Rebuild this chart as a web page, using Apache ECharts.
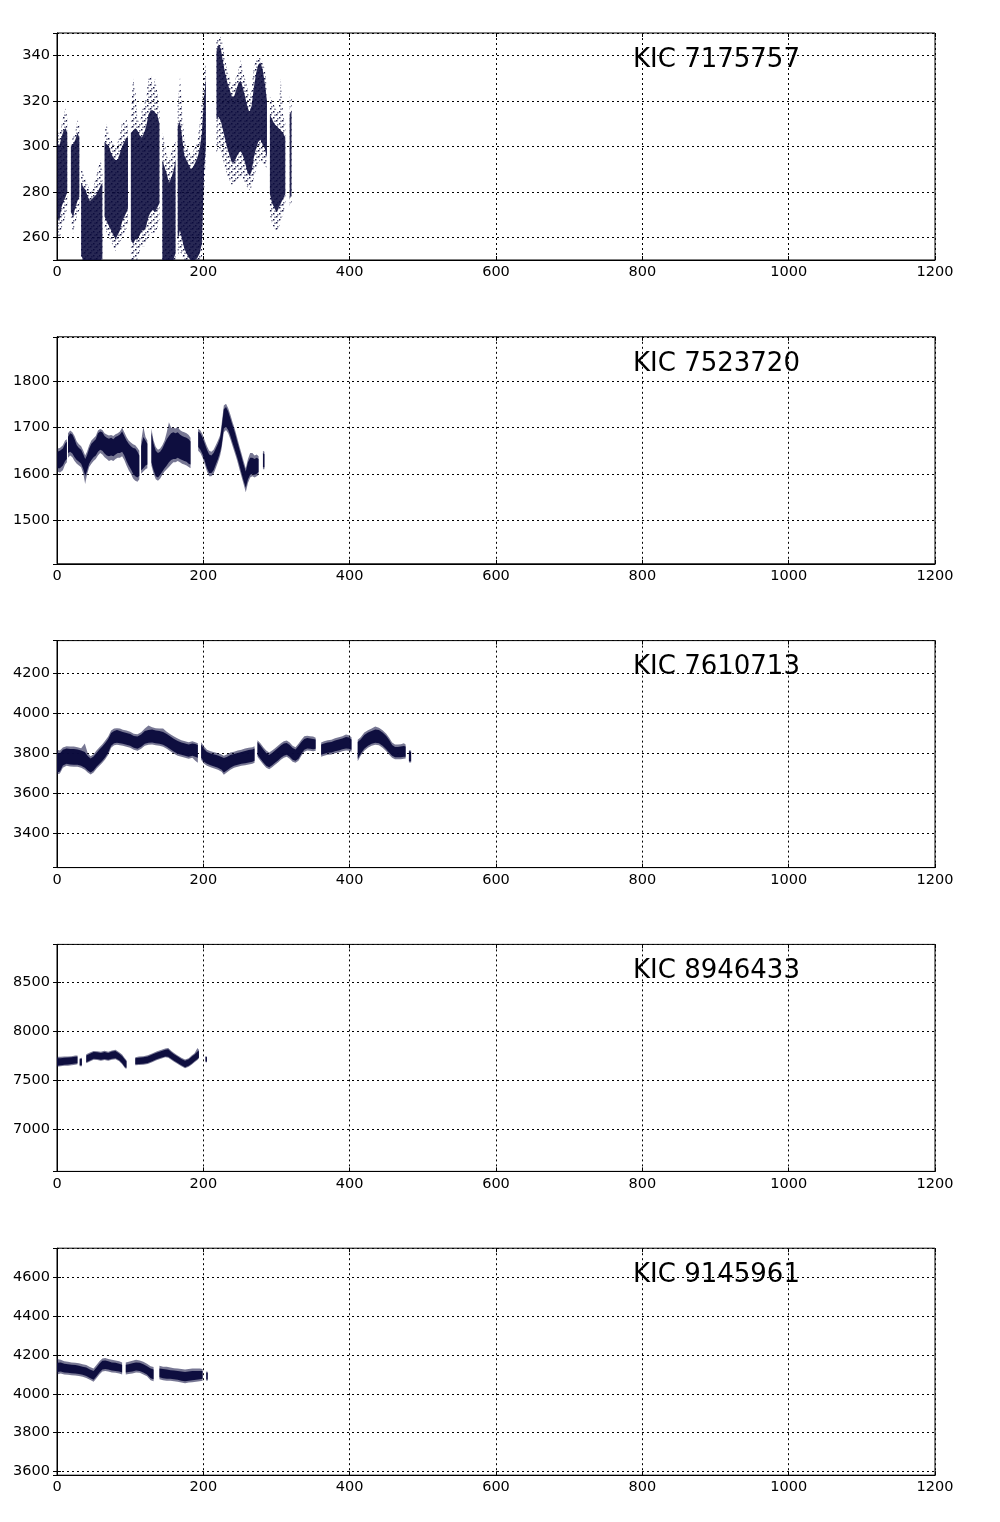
<!DOCTYPE html>
<html>
<head>
<meta charset="utf-8">
<script src="https://cdn.jsdelivr.net/npm/echarts@6/dist/echarts.min.js"></script>
<style>html,body{margin:0;padding:0;background:#fff}#c{width:1000px;height:1522px}</style>
</head>
<body>
<div id="c"></div>
<script>
// ---- data (each row: [time, outerLow, denseLow, denseHigh, outerHigh]) ----
const titles = ['KIC 7175757', 'KIC 7523720', 'KIC 7610713', 'KIC 8946433', 'KIC 9145961'];
const xTickValues = [0, 200, 400, 600, 800, 1000, 1200];
const yMins = [250, 1405, 3229, 6571, 3581];
const yMaxs = [350, 1897, 4364, 8888, 4750];
const yTickSteps = [20, 100, 200, 500, 200];

const kic7175757 = [
  [[0.5,262,269,302,308],[3,258,267,300,305],[6,264,273,304,309],[9,266,276,307,314],[12,270,278,308,317],[14,274,280,306,312]],
  [[19,268,271,300,302],[22,262,269,301,304],[25,266,273,303,306],[28,270,276,306,312],[30.5,272,278,304,309]],
  [[33,248,252,284,291],[36,245,250,282,288],[39,245,250,281,285],[42,245,250,278,283],[45,245,250,276,281],[48,245,250,277,280],[51,245,250,278,284],[54,245,250,279,287],[57,245,250,281,292],[60,245,250,283,294],[62,246,251,284,289]],
  [[65,264,269,302,306],[68,262,267,301,310],[71,260,265,300,304],[74,258,263,297,303],[77,256,261,295,301],[80,254,259,294,300],[83,256,261,294,302],[86,258,263,297,305],[89,260,267,300,311],[92,262,269,302,310],[95,264,271,304,312],[97,266,273,304,308]],
  [[101,248,259,306,314],[104,246,257,307,330],[107,248,259,308,325],[110,250,259,307,312],[113,254,261,305,310],[116,256,263,304,316],[119,256,263,306,318],[122,258,265,309,322],[125,260,269,314,330],[128,262,271,316,332],[131,262,272,316,326],[134,262,271,315,330],[137,264,273,314,324],[140,268,275,310,316]],
  [[144,245,250,294,306],[147,245,250,291,302],[150,245,250,288,296],[153,245,250,284,294],[156,245,250,286,297],[159,245,250,289,300],[162,248,253,294,303]],
  [[165,252,259,309,318],[168,254,263,311,331],[171,252,259,304,316],[174,248,255,296,303],[177,246,253,294,300],[180,245,251,292,298],[183,245,250,290,296],[186,245,250,291,298],[189,245,250,293,300],[192,246,251,295,302],[195,248,253,299,310],[198,250,257,306,320],[201,280,289,322,334],[203.5,296,301,330,336]],
  [[218,297,312,342,346],[221,300,313,345,349],[224,298,311,343,348],[227,294,307,337,344],[230,290,303,332,338],[233,287,299,328,333],[236,285,296,325,330],[239,283,293,322,327],[242,284,293,322,328],[245,285,295,325,331],[248,286,297,328,334],[251,287,298,329,338],[254,286,296,326,333],[257,284,293,322,330],[260,282,289,318,326],[263,281,287,315,322],[266,282,289,318,325],[269,286,295,326,335],[272,290,299,332,338],[275,293,302,336,340],[278,294,303,337,339],[281,293,301,334,337],[284,292,299,328,334],[287,290,295,320,326]],
  [[291,270,279,314,322],[294,266,275,312,320],[297,264,273,310,318],[300,263,271,309,316],[303,264,273,308,316],[306,268,275,307,330],[309,270,277,306,314],[312,274,279,304,310]],
  [[318,273,277,314,322],[320.5,274,279,316,321]]
];

const kic7523720 = [
  [[0.5,1605,1612,1648,1655],[4,1603,1612,1650,1656],[8,1608,1618,1655,1662],[11,1620,1628,1665,1672],[13.5,1625,1632,1670,1675]],
  [[15,1635,1645,1680,1688],[18,1640,1648,1688,1694],[21,1636,1644,1685,1690],[24,1628,1636,1675,1682],[27,1622,1630,1662,1670],[30,1618,1626,1656,1664],[33,1614,1622,1652,1660],[36,1600,1610,1642,1650],[38.5,1578,1596,1632,1640],[41,1598,1606,1640,1648],[44,1615,1622,1655,1662],[47,1622,1630,1665,1672],[50,1628,1636,1670,1677],[53,1632,1640,1675,1682],[56,1640,1648,1688,1694],[59,1645,1652,1692,1697],[62,1642,1650,1690,1695],[65,1636,1644,1682,1688],[68,1632,1640,1678,1685],[71,1628,1638,1676,1683],[74,1630,1640,1678,1684],[77,1628,1638,1675,1682],[80,1632,1642,1680,1686],[83,1635,1645,1682,1688],[86,1635,1645,1685,1692],[89,1638,1648,1692,1700],[92,1630,1640,1682,1690],[95,1618,1628,1672,1680],[98,1608,1618,1665,1672],[101,1600,1610,1660,1668],[104,1590,1600,1656,1664],[107,1585,1595,1655,1662],[110,1583,1592,1648,1656],[112.5,1588,1596,1640,1650]],
  [[115,1600,1608,1660,1670],[118,1605,1612,1680,1702],[121,1610,1618,1672,1680],[123.5,1612,1620,1665,1672]],
  [[129,1618,1625,1690,1698],[132,1600,1608,1665,1672],[135,1588,1595,1650,1658],[138,1585,1592,1645,1652],[141,1590,1598,1648,1655],[144,1598,1605,1655,1662],[147,1605,1612,1665,1672],[150,1610,1618,1675,1690],[153,1615,1625,1682,1712],[156,1620,1630,1688,1700],[159,1625,1632,1690,1700],[162,1625,1632,1688,1698],[165,1628,1635,1690,1702],[168,1625,1632,1685,1695],[171,1622,1630,1682,1692],[174,1620,1628,1680,1690],[177,1618,1626,1678,1688],[180,1615,1622,1675,1684],[182.5,1612,1620,1670,1678]],
  [[193,1650,1658,1692,1698],[196,1645,1652,1688,1694],[199,1635,1642,1678,1685],[202,1620,1628,1665,1672],[205,1605,1612,1652,1660],[208,1595,1602,1642,1650],[211,1595,1602,1640,1648],[214,1600,1608,1645,1652],[217,1612,1620,1655,1662],[220,1625,1632,1665,1672],[223,1640,1648,1678,1684],[225,1655,1662,1700,1708],[228,1690,1698,1740,1748],[231,1695,1702,1745,1752],[234,1688,1695,1735,1742],[237,1675,1682,1720,1728],[240,1660,1667,1705,1712],[243,1645,1652,1690,1697],[246,1630,1637,1672,1680],[249,1612,1620,1655,1662],[252,1595,1602,1638,1645],[255,1578,1585,1620,1628],[258,1560,1570,1605,1612],[261,1580,1588,1625,1632],[264,1592,1598,1635,1645],[267,1595,1600,1635,1645],[270,1592,1598,1632,1640],[273,1595,1600,1635,1642],[275.5,1598,1604,1632,1638]],
  [[281.5,1610,1614,1645,1650],[283.5,1610,1614,1642,1648]]
];

const kic7610713 = [
  [[0,3695,3705,3805,3818],[4,3700,3710,3800,3815],[8,3728,3740,3818,3830],[13,3738,3748,3825,3836],[18,3735,3745,3822,3834],[23,3733,3743,3822,3834],[28,3733,3743,3819,3831],[33,3728,3738,3815,3826],[38,3718,3728,3807,3850],[42,3705,3715,3787,3801],[46,3695,3705,3775,3786],[50,3705,3715,3785,3796],[54,3723,3733,3802,3814],[58,3738,3748,3819,3831],[62,3753,3763,3835,3846],[66,3771,3781,3852,3864],[70,3793,3805,3872,3884],[74,3828,3838,3902,3914],[78,3841,3851,3912,3924],[82,3843,3853,3917,3926],[86,3841,3851,3912,3924],[90,3838,3848,3907,3918],[95,3833,3843,3902,3914],[100,3828,3838,3897,3908],[105,3818,3828,3887,3898],[110,3813,3823,3885,3896],[115,3823,3833,3895,3906],[120,3838,3848,3912,3924],[125,3843,3853,3917,3940],[130,3845,3855,3919,3931],[135,3841,3851,3915,3926],[140,3838,3848,3912,3924],[145,3833,3843,3907,3925],[150,3823,3833,3897,3908],[155,3811,3821,3885,3896],[160,3798,3808,3872,3884],[165,3788,3798,3862,3874],[170,3783,3793,3855,3866],[175,3778,3788,3849,3861],[180,3773,3783,3845,3856],[185,3778,3788,3849,3861],[189,3763,3783,3847,3856],[192.5,3753,3778,3842,3851]],
  [[197,3768,3778,3845,3856],[201,3748,3758,3822,3834],[205,3738,3748,3807,3818],[210,3731,3741,3799,3811],[215,3725,3735,3795,3806],[220,3718,3728,3789,3801],[225,3708,3718,3782,3794],[228,3693,3705,3777,3788],[232,3705,3715,3782,3794],[237,3718,3728,3792,3804],[242,3728,3738,3797,3808],[247,3733,3743,3802,3814],[252,3738,3748,3807,3818],[257,3741,3751,3812,3824],[262,3745,3755,3817,3828],[267,3748,3758,3819,3831],[270,3753,3763,3825,3836]],
  [[274,3783,3793,3857,3866],[278,3763,3773,3839,3851],[282,3745,3755,3819,3831],[286,3728,3738,3802,3814],[290,3721,3731,3792,3804],[294,3731,3741,3802,3814],[298,3743,3753,3815,3826],[302,3755,3765,3827,3838],[306,3768,3778,3839,3851],[310,3778,3788,3849,3861],[314,3783,3793,3852,3864],[318,3773,3783,3842,3854],[322,3758,3768,3827,3838],[326,3753,3763,3819,3831],[330,3763,3773,3837,3848],[334,3788,3798,3857,3868],[338,3808,3818,3872,3886],[342,3815,3825,3877,3888],[346,3813,3823,3875,3886],[350,3811,3821,3872,3884],[353.5,3813,3823,3869,3878]],
  [[361,3783,3793,3845,3854],[365,3788,3798,3849,3861],[370,3793,3803,3855,3866],[375,3795,3805,3857,3868],[380,3801,3811,3865,3876],[385,3805,3815,3869,3881],[390,3811,3821,3875,3886],[395,3815,3825,3882,3894],[399,3813,3823,3879,3891],[402.5,3808,3818,3869,3881]],
  [[411,3761,3773,3857,3868],[415,3788,3798,3869,3881],[420,3813,3823,3892,3904],[425,3828,3838,3905,3916],[430,3838,3848,3912,3924],[435,3843,3853,3919,3934],[440,3841,3851,3917,3928],[445,3828,3838,3905,3916],[450,3811,3821,3887,3898],[454,3793,3803,3867,3878],[458,3778,3788,3842,3854],[462,3771,3781,3832,3844],[466,3771,3781,3832,3844],[470,3771,3781,3835,3846],[474,3773,3783,3837,3851],[476.5,3775,3783,3835,3844]],
  [[481,3755,3761,3812,3816],[484,3755,3761,3807,3814]]
];

const kic8946433 = [
  [[0,7640,7650,7725,7740],[5,7643,7655,7727,7740],[10,7650,7660,7730,7743],[15,7650,7663,7733,7745],[20,7655,7667,7735,7747],[25,7660,7673,7740,7753],[28,7665,7675,7743,7755]],
  [[31,7645,7655,7715,7725],[34,7645,7655,7720,7730]],
  [[40,7675,7685,7755,7767],[45,7693,7703,7773,7785],[50,7710,7720,7790,7800],[55,7707,7717,7787,7797],[60,7700,7710,7780,7793],[65,7707,7717,7790,7803],[70,7700,7710,7780,7793],[75,7710,7720,7795,7805],[80,7715,7725,7800,7813],[85,7695,7705,7775,7787],[89,7665,7675,7750,7763],[93,7625,7635,7710,7723],[95,7620,7630,7695,7705]],
  [[107,7655,7665,7725,7735],[112,7657,7667,7730,7743],[118,7660,7670,7735,7747],[124,7667,7677,7745,7757],[130,7685,7695,7763,7775],[136,7705,7715,7783,7795],[142,7720,7730,7797,7810],[148,7735,7745,7813,7825],[152,7730,7740,7817,7830],[156,7710,7720,7790,7803],[160,7690,7700,7767,7780],[165,7667,7677,7743,7755],[170,7645,7655,7717,7730],[175,7625,7635,7700,7713],[180,7640,7650,7715,7727],[184,7660,7670,7740,7753],[188,7685,7695,7765,7777],[192,7707,7717,7795,7830],[194,7725,7733,7800,7810]],
  [[203,7685,7693,7740,7747],[205,7685,7693,7737,7745]]
];

const kic9145961 = [
  [[0,4100,4112,4160,4180],[5,4105,4115,4162,4175],[10,4100,4110,4155,4168],[15,4098,4108,4152,4165],[20,4096,4106,4150,4162],[25,4095,4105,4148,4160],[30,4092,4102,4145,4158],[35,4088,4098,4140,4152],[40,4082,4092,4135,4148],[45,4072,4082,4125,4138],[50,4062,4072,4118,4130],[54,4080,4090,4135,4148],[58,4100,4110,4155,4168],[62,4115,4125,4170,4182],[66,4118,4128,4172,4185],[70,4115,4125,4168,4180],[75,4110,4120,4162,4175],[80,4108,4118,4160,4172],[85,4105,4115,4155,4168],[89,4100,4110,4150,4162]],
  [[94,4100,4110,4150,4162],[98,4102,4112,4152,4165],[103,4105,4115,4158,4170],[108,4110,4120,4162,4175],[113,4108,4118,4160,4172],[118,4100,4110,4152,4165],[123,4090,4100,4142,4155],[128,4070,4080,4130,4142],[132,4065,4075,4125,4138]],
  [[140,4075,4085,4130,4145],[145,4070,4080,4128,4140],[150,4068,4078,4125,4140],[155,4068,4078,4122,4135],[160,4065,4075,4120,4132],[165,4062,4072,4118,4130],[170,4058,4068,4115,4128],[175,4055,4065,4112,4125],[180,4058,4068,4115,4128],[185,4060,4070,4118,4130],[190,4062,4072,4118,4130],[195,4065,4075,4118,4130],[199,4068,4078,4118,4128]],
  [[204,4068,4074,4110,4115],[206,4068,4074,4108,4114]]
];

const allSeries = [kic7175757, kic7523720, kic7610713, kic8946433, kic9145961];

// ---- chart ----
const DOT = '10,10,60';
const FONT = 'DejaVu Sans';

// speckle texture (a fixed style pattern, not data) for the sparse outer halo
function makeSpeckle() {
  const c = document.createElement('canvas');
  c.width = 6; c.height = 6;
  const g = c.getContext('2d');
  g.fillStyle = 'rgba(' + DOT + ',0.95)';
  g.fillRect(0, 0, 1.5, 1.5);
  g.fillRect(3, 3, 1.5, 1.5);
  g.fillRect(4.4, 0.6, 1.2, 1.2);
  g.fillRect(1.2, 4.2, 1.2, 1.2);
  return c;
}
const speckle = makeSpeckle();

const chart = echarts.init(document.getElementById('c'), null, {renderer: 'canvas'});
const grids = [], xAxes = [], yAxes = [], series = [], graphics = [];
const TOP0 = 33, STEP = 303.8, H = 227, LEFT = 57, W = 878;

allSeries.forEach((segs, i) => {
  const top = TOP0 + i * STEP;
  grids.push({left: LEFT, top: top, width: W, height: H, show: true, borderColor: '#000', borderWidth: 1, backgroundColor: 'transparent'});
  const splitLine = {show: true, lineStyle: {color: '#000', width: 1, type: [2, 3]}};
  const tick = {show: true, inside: true, length: 4, lineStyle: {color: '#000'}};
  xAxes.push({type: 'value', gridIndex: i, min: xTickValues[0], max: xTickValues[xTickValues.length - 1], interval: 200,
    axisLine: {show: true, lineStyle: {color: '#000'}}, axisTick: tick, splitLine: splitLine,
    axisLabel: {color: '#000', fontSize: 14.5, fontFamily: FONT, margin: 5, formatter: v => String(v)}});
  xAxes.push({type: 'value', gridIndex: i, position: 'top', min: xTickValues[0], max: xTickValues[xTickValues.length - 1], interval: 200,
    axisLine: {show: false}, axisTick: tick, splitLine: {show: false}, axisLabel: {show: false}});
  const st = yTickSteps[i];
  const yCommon = {type: 'value', gridIndex: i, min: yMins[i], max: yMaxs[i], splitNumber: 5, minInterval: st, maxInterval: st};
  yAxes.push(Object.assign({}, yCommon, {
    axisLine: {show: true, lineStyle: {color: '#000'}}, axisTick: tick, splitLine: splitLine,
    axisLabel: {color: '#000', fontSize: 14.5, fontFamily: FONT, margin: 7, showMinLabel: false, showMaxLabel: false,
      formatter: v => (Math.abs(v / st - Math.round(v / st)) < 1e-6 ? String(Math.round(v)) : '')}}));
  yAxes.push(Object.assign({}, yCommon, {position: 'right',
    axisLine: {show: false}, axisTick: tick, splitLine: {show: false}, axisLabel: {show: false}}));

  const lo = yMins[i], hi = yMaxs[i];
  const clampY = v => Math.min(Math.max(v, lo), hi);
  const outerFill = i === 0 ? {image: speckle, repeat: 'repeat'} : 'rgba(' + DOT + ',0.55)';
  const coreFill = 'rgba(' + DOT + ',' + (i === 0 ? 0.88 : 0.97) + ')';
  series.push({
    type: 'custom', xAxisIndex: 2 * i, yAxisIndex: 2 * i, clip: true, silent: true, animation: false,
    data: segs.map(s => [s[0][0], s[0][2]]),
    encode: {x: 0, y: 1},
    renderItem: function (params, api) {
      const s = segs[params.dataIndex];
      const band = (a, b) => s.map(r => api.coord([r[0], clampY(r[b])]))
        .concat(s.slice().reverse().map(r => api.coord([r[0], clampY(r[a])])));
      return {type: 'group', children: [
        {type: 'polygon', shape: {points: band(1, 4)}, style: {fill: outerFill}},
        {type: 'polygon', shape: {points: band(2, 3)}, style: {fill: coreFill}}
      ]};
    }
  });
  graphics.push({type: 'text', x: 633, y: top + 27, silent: true,
    style: {text: titles[i], fontSize: 26, fontFamily: FONT, fill: '#000', align: 'left', verticalAlign: 'middle'}});
});

chart.setOption({
  animation: false,
  backgroundColor: '#fff',
  grid: grids, xAxis: xAxes, yAxis: yAxes, series: series, graphic: graphics
});
</script>
</body>
</html>
